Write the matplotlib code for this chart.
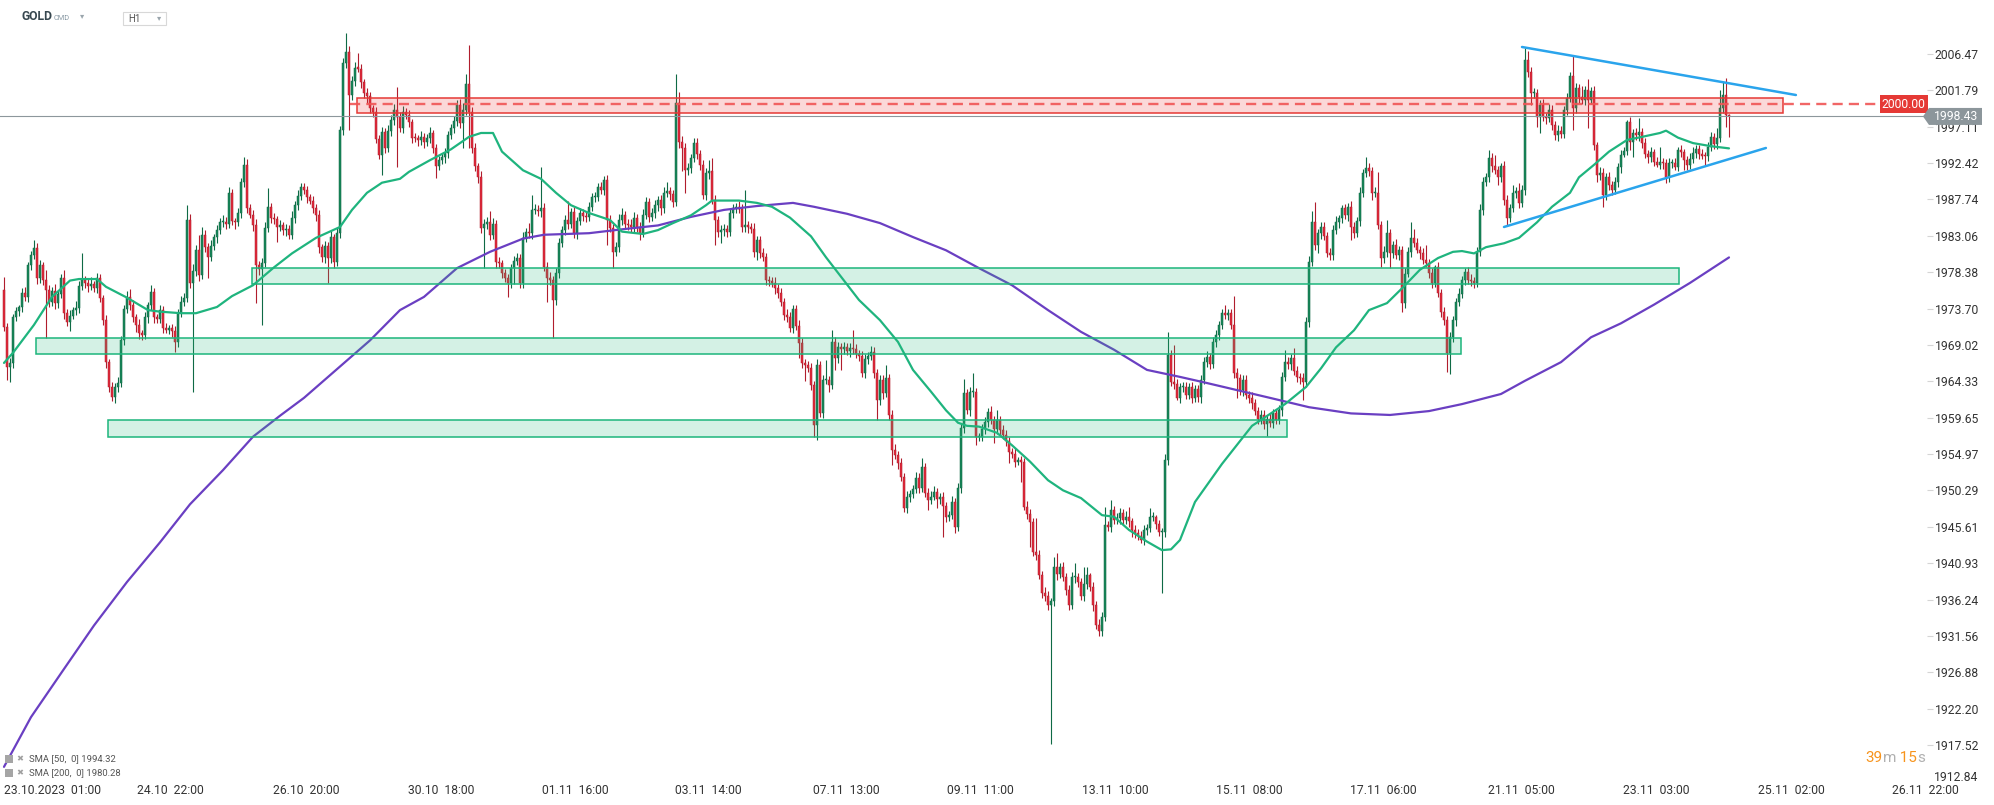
import matplotlib
matplotlib.use("Agg")
import matplotlib.pyplot as plt
from matplotlib.patches import Rectangle, Polygon

plt.rcParams['font.family'] = ['Roboto', 'DejaVu Sans']

# ---------------- data (GOLD H1, 23.10.2023 - 24.11.2023) ----------------
first_open = 1976.1
close = [
    1971.3, 1966.2, 1966.7, 1972.6, 1973.4, 1973.9, 1975.7, 1975.2, 1979.3, 1980.6, 1981.5, 1977.6, 1979.3, 1977.4, 1976.1, 1974.5, 1976.0, 1974.4, 1975.6, 1977.6,
    1973.1, 1972.0, 1972.8, 1973.5, 1973.8, 1976.6, 1977.4, 1977.0, 1976.6, 1976.9, 1976.4, 1977.6, 1975.0, 1972.2, 1966.8, 1963.6, 1962.3, 1963.6, 1964.1, 1969.6,
    1973.6, 1975.2, 1974.2, 1972.6, 1971.6, 1970.5, 1970.3, 1972.6, 1974.1, 1975.8, 1972.6, 1972.4, 1973.5, 1971.2, 1971.0, 1971.2, 1970.8, 1969.4, 1973.1, 1974.6,
    1975.1, 1985.1, 1977.0, 1978.5, 1981.2, 1978.0, 1983.2, 1981.6, 1980.3, 1981.8, 1982.9, 1983.8, 1984.8, 1984.9, 1984.6, 1988.6, 1985.0, 1984.8, 1986.0, 1990.0,
    1992.2, 1986.6, 1985.8, 1984.4, 1979.3, 1978.8, 1979.6, 1984.1, 1986.8, 1985.4, 1985.2, 1984.2, 1984.4, 1983.8, 1984.0, 1983.2, 1985.4, 1987.0, 1988.2, 1989.3,
    1989.0, 1988.0, 1987.6, 1986.6, 1985.7, 1981.6, 1980.3, 1981.8, 1980.2, 1982.9, 1979.7, 1983.4, 1996.7, 2005.3, 2006.7, 2001.2, 2003.0, 2004.7, 2004.6, 2002.8,
    2001.4, 2001.0, 1999.5, 1999.0, 1995.5, 1993.5, 1996.4, 1994.4, 1996.5, 1998.0, 1999.3, 1998.4, 1997.0, 1999.0, 1998.6, 1997.7, 1995.7, 1995.6, 1995.4, 1995.8,
    1995.1, 1995.6, 1996.3, 1994.4, 1992.1, 1992.8, 1993.2, 1993.7, 1996.0, 1997.0, 1997.8, 1999.9, 1997.6, 1999.2, 2002.6, 1999.0, 1994.4, 1992.0, 1990.6, 1984.1,
    1984.6, 1984.8, 1983.2, 1984.6, 1979.7, 1979.5, 1978.3, 1977.6, 1977.0, 1978.9, 1979.8, 1980.2, 1977.0, 1982.8, 1983.5, 1983.4, 1986.4, 1986.4, 1986.2, 1986.6,
    1979.1, 1977.6, 1977.4, 1974.8, 1978.3, 1982.1, 1983.8, 1985.1, 1984.6, 1986.1, 1983.4, 1985.0, 1986.0, 1985.6, 1985.5, 1986.8, 1988.1, 1988.1, 1989.3, 1989.0,
    1990.2, 1985.1, 1984.1, 1981.0, 1981.6, 1985.1, 1985.7, 1984.6, 1984.4, 1984.2, 1985.4, 1984.2, 1983.4, 1985.8, 1987.4, 1985.5, 1986.0, 1987.0, 1987.7, 1986.6,
    1988.6, 1988.8, 1988.4, 1987.4, 2000.2, 1995.1, 1994.4, 1991.5, 1991.8, 1993.1, 1995.0, 1993.6, 1992.2, 1988.3, 1991.1, 1991.4, 1987.7, 1985.1, 1983.6, 1983.8,
    1984.0, 1983.5, 1986.0, 1986.6, 1986.8, 1986.5, 1984.2, 1984.4, 1984.2, 1984.0, 1981.0, 1982.5, 1980.8, 1980.3, 1977.4, 1977.2, 1977.0, 1976.3, 1975.7, 1974.5,
    1972.9, 1972.6, 1971.2, 1973.6, 1971.5, 1969.3, 1966.7, 1966.4, 1966.0, 1963.9, 1958.7, 1966.4, 1960.3, 1964.5, 1964.5, 1963.9, 1969.4, 1967.3, 1968.7, 1968.5,
    1968.8, 1968.2, 1968.6, 1968.5, 1967.8, 1967.6, 1965.4, 1967.2, 1967.6, 1968.1, 1965.4, 1961.9, 1964.5, 1962.8, 1964.8, 1960.0, 1955.5, 1954.9, 1953.8, 1952.0,
    1948.0, 1949.5, 1949.8, 1950.5, 1951.9, 1950.6, 1953.3, 1950.0, 1949.1, 1949.5, 1950.1, 1949.2, 1949.4, 1948.3, 1946.9, 1947.1, 1948.8, 1945.6, 1950.6, 1958.3,
    1962.8, 1960.6, 1962.9, 1962.9, 1957.2, 1957.2, 1958.2, 1959.1, 1960.4, 1959.3, 1958.2, 1959.4, 1958.1, 1957.4, 1956.6, 1955.2, 1955.0, 1954.0, 1954.1, 1954.0,
    1948.2, 1947.3, 1946.2, 1942.4, 1942.0, 1939.4, 1937.1, 1936.7, 1935.5, 1936.0, 1940.4, 1939.5, 1940.4, 1939.2, 1937.5, 1935.5, 1939.1, 1939.1, 1938.5, 1936.7,
    1938.2, 1939.4, 1937.9, 1935.5, 1933.0, 1932.2, 1934.0, 1945.8, 1945.6, 1947.8, 1946.5, 1946.7, 1947.4, 1946.5, 1946.9, 1946.3, 1945.2, 1944.8, 1944.4, 1943.9,
    1945.2, 1945.4, 1946.9, 1946.9, 1946.0, 1944.9, 1944.9, 1954.2, 1967.7, 1964.2, 1964.0, 1962.2, 1963.6, 1963.6, 1962.6, 1963.6, 1962.2, 1963.3, 1962.3, 1964.5,
    1966.8, 1967.5, 1966.6, 1969.4, 1970.3, 1971.6, 1973.1, 1972.9, 1973.1, 1971.6, 1965.4, 1964.8, 1963.2, 1964.5, 1962.6, 1962.2, 1961.5, 1960.5, 1959.5, 1960.0,
    1958.8, 1959.5, 1959.0, 1960.2, 1959.4, 1960.6, 1964.9, 1966.8, 1966.5, 1967.3, 1965.7, 1964.9, 1964.7, 1964.2, 1972.0, 1979.7, 1984.8, 1981.9, 1983.4, 1984.2,
    1983.1, 1980.8, 1980.6, 1983.8, 1984.8, 1985.3, 1986.6, 1985.7, 1986.8, 1984.2, 1983.4, 1985.0, 1988.6, 1991.1, 1991.8, 1991.4, 1988.6, 1988.6, 1984.4, 1980.2,
    1981.0, 1983.4, 1980.8, 1981.9, 1980.6, 1981.2, 1974.4, 1978.2, 1981.0, 1982.8, 1982.2, 1981.3, 1980.8, 1980.0, 1979.6, 1978.3, 1977.0, 1979.1, 1975.7, 1973.3,
    1972.2, 1968.0, 1970.0, 1972.2, 1974.5, 1975.6, 1977.4, 1978.4, 1977.4, 1977.2, 1977.0, 1981.0, 1986.4, 1990.0, 1990.6, 1993.1, 1992.0, 1991.5, 1990.6, 1992.0,
    1987.7, 1985.4, 1986.6, 1988.6, 1988.8, 1987.3, 1988.9, 2005.7, 2004.2, 2001.4, 2001.4, 1998.4, 1999.9, 1998.4, 1998.2, 1999.3, 1997.3, 1996.0, 1996.6, 1996.2,
    1999.3, 2000.8, 2003.6, 1999.5, 2002.1, 2000.9, 2000.5, 2001.8, 2000.5, 2001.7, 1994.7, 1990.9, 1991.2, 1988.3, 1990.6, 1989.6, 1989.0, 1990.0, 1991.9, 1993.5,
    1994.0, 1997.7, 1995.1, 1996.3, 1996.0, 1996.4, 1995.0, 1993.6, 1993.2, 1993.8, 1992.6, 1992.2, 1992.6, 1992.4, 1990.6, 1992.4, 1992.5, 1991.9, 1994.1, 1993.8,
    1992.8, 1992.2, 1993.0, 1993.7, 1994.2, 1993.6, 1993.4, 1993.3, 1994.5, 1995.8, 1994.9, 1995.7, 1999.5, 2001.2, 1998.6, 1998.43,
]
# wick lengths above / below the candle body
upper_wick = [
    1.7, 0.5, 0.6, 0.4, 0.5, 0.3, 0.6, 0.8, 0.4, 0.5, 1.0, 0.6, 0.7, 0.4, 1.2, 0.6, 0.5, 0.8, 0.4, 0.6,
    1.0, 0.5, 0.7, 0.4, 0.9, 0.6, 3.4, 0.5, 0.6, 0.8, 0.4, 0.7, 0.6, 0.5, 0.7, 0.4, 0.6, 0.5, 0.8, 0.6,
    0.5, 0.7, 1.0, 0.6, 0.4, 0.8, 0.5, 0.6, 0.5, 0.9, 0.6, 0.4, 0.7, 0.5, 0.6, 0.4, 0.5, 0.6, 0.5, 0.7,
    0.6, 1.9, 0.8, 0.9, 0.7, 2.0, 1.0, 0.6, 0.5, 0.7, 0.4, 0.6, 0.5, 0.8, 0.6, 0.7, 0.5, 0.4, 0.6, 0.5,
    1.0, 0.7, 0.5, 0.6, 0.8, 0.5, 0.6, 0.7, 2.4, 0.5, 0.6, 0.4, 0.7, 0.5, 0.6, 0.4, 0.8, 0.6, 0.7, 0.6,
    0.6, 0.5, 0.4, 0.6, 0.5, 0.7, 0.4, 0.6, 0.5, 0.8, 0.4, 0.7, 0.5, 0.6, 2.5, 0.8, 0.6, 0.7, 1.9, 0.6,
    0.5, 0.7, 0.6, 0.4, 0.6, 0.5, 0.7, 0.5, 0.8, 0.6, 0.7, 2.9, 0.6, 0.8, 0.5, 0.6, 0.4, 0.6, 0.5, 0.7,
    0.5, 0.6, 0.8, 0.4, 0.5, 0.6, 0.5, 0.7, 0.6, 0.5, 0.7, 0.6, 0.8, 0.9, 1.3, 5.0, 0.7, 0.6, 0.5, 0.8,
    0.6, 0.7, 1.4, 0.8, 0.5, 0.6, 0.4, 0.5, 0.6, 0.5, 0.7, 0.6, 0.5, 0.7, 0.6, 1.2, 1.9, 0.8, 0.6, 5.3,
    0.7, 0.6, 0.8, 0.5, 0.6, 0.7, 0.5, 0.6, 2.5, 0.6, 0.7, 0.5, 0.6, 0.5, 0.7, 0.6, 0.5, 0.6, 0.5, 0.7,
    0.6, 0.7, 0.6, 0.5, 0.7, 0.8, 0.9, 0.5, 0.6, 0.8, 0.7, 0.5, 0.6, 0.7, 0.6, 0.5, 0.6, 0.7, 0.5, 0.6,
    0.7, 1.2, 0.6, 0.5, 3.7, 1.4, 0.8, 0.6, 0.7, 0.5, 0.6, 0.7, 0.5, 0.6, 0.7, 1.4, 1.7, 0.6, 0.5, 0.7,
    0.6, 0.5, 0.7, 0.6, 0.5, 0.7, 0.6, 4.5, 0.6, 0.5, 0.7, 0.6, 0.5, 0.7, 0.6, 0.5, 0.6, 0.7, 0.5, 0.6,
    0.5, 0.7, 0.6, 0.6, 0.5, 0.7, 0.6, 0.5, 0.6, 0.7, 0.5, 0.8, 0.6, 0.7, 2.6, 0.5, 1.5, 0.6, 0.7, 0.5,
    0.6, 0.5, 0.7, 2.3, 0.6, 0.5, 0.6, 0.7, 0.5, 0.8, 0.6, 0.5, 0.7, 0.6, 1.6, 0.5, 0.6, 0.7, 0.5, 0.6,
    0.5, 0.7, 0.6, 0.5, 0.7, 0.6, 1.2, 0.5, 0.6, 0.7, 0.8, 0.5, 0.6, 0.7, 0.5, 0.6, 0.8, 0.5, 0.6, 0.7,
    1.8, 0.6, 0.7, 2.5, 0.6, 0.5, 0.7, 0.6, 0.5, 0.7, 0.6, 1.2, 0.5, 0.6, 0.7, 0.5, 0.6, 0.7, 0.5, 0.6,
    0.5, 0.7, 0.6, 0.5, 4.4, 0.6, 0.5, 0.7, 0.6, 0.5, 1.3, 1.8, 0.6, 0.7, 0.5, 0.6, 0.7, 1.8, 0.6, 0.5,
    2.2, 1.0, 0.3, 0.6, 0.5, 0.7, 0.6, 2.4, 0.6, 1.3, 0.5, 0.7, 0.6, 0.5, 0.7, 1.3, 0.5, 0.6, 0.5, 0.7,
    0.6, 0.5, 1.1, 0.6, 0.2, 0.5, 0.6, 0.8, 3.0, 0.7, 4.8, 0.6, 0.5, 0.7, 0.6, 0.5, 0.7, 0.6, 0.5, 0.7,
    0.6, 0.7, 0.5, 0.6, 0.7, 0.5, 0.6, 1.0, 0.6, 0.5, 3.7, 0.6, 0.5, 0.7, 0.6, 0.5, 0.7, 0.6, 0.5, 0.7,
    0.6, 0.5, 0.7, 0.6, 0.5, 0.7, 0.6, 1.6, 0.7, 0.5, 1.3, 0.6, 0.5, 0.7, 0.6, 0.8, 1.4, 2.6, 0.6, 0.7,
    0.6, 0.5, 0.7, 0.6, 0.8, 0.5, 0.4, 0.6, 0.5, 0.7, 0.6, 0.5, 0.7, 0.6, 1.4, 0.6, 0.5, 0.7, 2.7, 0.6,
    0.7, 1.7, 0.6, 0.5, 0.7, 0.6, 0.5, 0.7, 0.6, 2.0, 1.2, 0.6, 0.5, 0.7, 1.9, 0.5, 0.6, 0.2, 0.6, 0.5,
    0.6, 0.5, 0.7, 0.6, 0.5, 0.7, 0.5, 0.5, 0.6, 0.7, 0.5, 0.6, 0.7, 0.6, 0.5, 1.0, 0.6, 1.5, 0.6, 0.5,
    0.7, 0.6, 0.5, 1.0, 0.6, 1.1, 0.7, 1.5, 1.2, 0.6, 0.7, 0.5, 0.6, 0.8, 0.5, 0.7, 0.6, 0.5, 0.7, 0.6,
    0.5, 0.7, 0.6, 2.7, 0.6, 0.5, 1.5, 0.6, 1.4, 0.5, 0.6, 0.5, 0.7, 0.6, 0.5, 0.7, 0.5, 0.6, 0.5, 0.6,
    0.5, 0.3, 0.6, 0.5, 0.7, 1.8, 0.5, 0.6, 0.5, 0.7, 0.5, 0.6, 1.9, 0.5, 0.6, 0.7, 0.5, 0.6, 0.4, 0.6,
    0.5, 0.6, 0.7, 0.8, 0.6, 0.5, 0.6, 0.5, 0.7, 0.6, 0.5, 1.2, 2.3, 1.7, 2.2, 0.2,
]
lower_wick = [
    0.5, 1.7, 1.9, 0.6, 0.5, 0.7, 0.6, 0.5, 0.7, 0.6, 0.5, 0.8, 0.6, 0.7, 6.2, 0.6, 0.5, 0.7, 0.6, 0.5,
    0.7, 0.6, 1.2, 0.5, 0.6, 0.7, 0.5, 0.6, 0.8, 0.5, 0.6, 0.7, 0.5, 0.6, 0.7, 0.6, 0.5, 0.7, 0.6, 0.5,
    0.6, 0.5, 0.7, 0.6, 0.9, 0.7, 0.6, 0.5, 0.7, 0.6, 0.8, 0.5, 0.6, 0.7, 0.5, 0.6, 0.7, 1.3, 0.6, 0.5,
    0.6, 0.5, 0.7, 14.0, 0.6, 0.7, 0.5, 0.6, 2.7, 0.5, 0.6, 0.7, 0.5, 0.6, 0.7, 0.5, 0.6, 0.8, 0.5, 0.6,
    0.7, 0.6, 0.5, 0.7, 4.9, 0.8, 7.2, 0.6, 0.5, 0.7, 0.6, 1.9, 0.5, 0.6, 0.7, 0.6, 0.5, 0.7, 0.6, 0.5,
    0.6, 0.7, 0.5, 0.6, 0.7, 0.8, 0.6, 0.7, 3.2, 0.6, 0.8, 0.5, 0.6, 0.7, 0.6, 4.5, 0.7, 0.6, 0.5, 0.7,
    0.6, 0.8, 0.6, 0.7, 0.5, 0.6, 2.6, 0.7, 0.5, 0.6, 0.7, 6.5, 0.6, 0.7, 0.5, 0.6, 0.7, 0.5, 0.8, 0.6,
    0.7, 0.5, 0.6, 0.7, 1.6, 0.6, 0.5, 0.7, 0.6, 0.5, 0.7, 0.6, 0.7, 3.2, 0.6, 4.6, 0.7, 0.6, 0.8, 0.7,
    5.2, 0.6, 0.7, 0.5, 0.8, 0.6, 0.7, 0.5, 1.8, 0.6, 2.0, 0.5, 0.6, 0.7, 0.5, 0.6, 0.7, 0.5, 0.6, 0.7,
    0.6, 3.1, 0.7, 4.9, 0.6, 0.7, 0.5, 0.6, 0.7, 0.5, 0.6, 0.7, 0.5, 0.6, 0.7, 0.5, 0.6, 0.7, 0.5, 0.6,
    0.7, 3.2, 0.6, 2.1, 0.5, 0.6, 0.7, 0.5, 0.6, 0.7, 0.8, 0.6, 0.9, 0.5, 0.6, 0.7, 0.5, 0.6, 0.7, 0.9,
    0.6, 0.5, 0.7, 0.6, 0.5, 0.7, 3.0, 2.9, 0.6, 0.7, 0.5, 0.6, 0.7, 0.5, 0.6, 0.7, 0.6, 3.2, 0.7, 1.5,
    0.8, 0.6, 0.5, 0.7, 0.6, 0.5, 0.7, 0.6, 0.8, 0.6, 0.7, 1.0, 0.6, 0.5, 0.7, 0.6, 0.5, 0.7, 0.6, 0.5,
    0.7, 0.6, 0.5, 0.7, 0.6, 2.0, 0.6, 2.0, 0.5, 0.7, 1.5, 1.9, 0.6, 0.7, 0.5, 0.9, 0.6, 1.5, 0.6, 2.7,
    0.6, 0.5, 0.7, 0.6, 0.5, 0.7, 0.5, 0.6, 0.7, 0.5, 0.6, 2.5, 0.6, 0.7, 0.5, 0.6, 2.0, 0.6, 0.7, 0.5,
    0.5, 0.6, 0.7, 0.5, 0.6, 0.7, 0.5, 0.6, 1.3, 0.6, 0.5, 1.2, 0.6, 4.0, 0.7, 0.6, 0.5, 0.8, 0.6, 0.7,
    0.6, 0.5, 0.7, 0.6, 1.1, 0.6, 0.5, 0.7, 0.6, 0.5, 1.8, 0.6, 0.7, 0.5, 0.6, 1.4, 0.6, 0.7, 0.5, 2.6,
    0.4, 0.7, 3.2, 0.6, 0.7, 0.5, 0.6, 0.7, 0.6, 17.9, 0.6, 0.7, 0.5, 0.6, 0.7, 0.6, 0.5, 0.7, 0.6, 0.5,
    0.7, 0.6, 0.5, 0.7, 0.6, 0.6, 0.7, 0.5, 0.6, 0.7, 0.5, 0.6, 0.7, 0.5, 0.6, 0.7, 0.9, 0.6, 0.5, 0.4,
    0.6, 0.7, 0.5, 0.6, 0.7, 0.5, 7.8, 0.6, 0.7, 0.5, 0.6, 0.3, 0.6, 0.7, 0.5, 0.6, 0.7, 0.5, 0.6, 0.7,
    0.5, 0.6, 0.7, 0.5, 0.6, 0.7, 0.5, 0.6, 0.7, 0.5, 0.6, 2.6, 0.6, 0.7, 0.5, 0.6, 0.7, 0.5, 0.6, 0.7,
    0.6, 1.5, 0.6, 0.7, 0.5, 0.6, 0.7, 0.5, 0.6, 0.7, 0.5, 0.6, 0.7, 2.3, 0.6, 0.7, 0.5, 0.6, 1.1, 0.7,
    0.6, 0.5, 0.7, 0.6, 0.5, 0.7, 0.6, 0.5, 0.7, 1.7, 0.6, 0.5, 0.7, 0.6, 0.5, 0.7, 0.9, 0.6, 0.5, 1.1,
    0.6, 0.7, 1.9, 0.6, 0.5, 0.7, 1.1, 0.6, 0.5, 0.7, 0.6, 0.5, 0.7, 0.6, 0.5, 0.7, 0.6, 0.5, 0.5, 0.7,
    0.6, 2.5, 2.7, 0.6, 0.7, 0.5, 0.6, 0.7, 0.5, 0.6, 0.7, 0.5, 0.6, 0.7, 0.5, 0.6, 0.7, 0.5, 1.0, 0.6,
    0.7, 1.1, 0.6, 0.5, 0.7, 0.6, 0.5, 0.6, 0.7, 1.5, 0.6, 1.3, 2.1, 0.6, 0.7, 0.5, 0.6, 0.6, 0.7, 0.5,
    0.6, 0.7, 0.5, 2.8, 0.6, 0.7, 0.5, 0.6, 3.5, 0.5, 0.6, 0.9, 0.7, 1.5, 0.6, 0.6, 0.7, 0.5, 0.6, 0.7,
    0.3, 0.5, 1.0, 1.9, 0.6, 0.7, 0.6, 0.5, 0.7, 0.6, 0.5, 0.3, 0.6, 0.7, 0.8, 0.6, 0.6, 0.4, 0.5, 0.6,
    1.3, 0.7, 0.6, 0.5, 0.6, 0.7, 0.5, 1.1, 0.6, 0.5, 0.7, 0.6, 0.5, 0.6, 1.5, 2.6,
]

sma50_bar = [0, 3, 10, 16, 22, 25, 31, 34, 41, 48, 52, 59, 64, 71, 76, 83, 90, 96, 104, 112,
             116, 121, 126, 132, 135, 142, 149, 155, 159, 163, 166, 173, 179, 184, 189, 195, 202, 206, 213, 218,
             223, 229, 234, 236, 245, 251, 256, 262, 269, 274, 279, 285, 292, 298, 303, 309, 314, 318, 321, 325,
             331, 336, 342, 348, 353, 359, 366, 370, 375, 381, 386, 389, 392, 397, 406, 416, 427, 434, 439, 444,
             450, 455, 461, 466, 472, 478, 483, 486, 490, 494, 500, 505, 511, 516, 522, 525, 530, 535, 541, 546,
             552, 554, 558, 563, 569, 575]
sma50_val = [1966.7, 1968.0, 1971.6, 1975.2, 1977.3, 1977.5, 1977.5, 1976.5, 1975.1, 1973.5, 1973.3, 1973.1, 1973.1, 1973.9, 1975.3, 1976.7, 1979.0, 1980.8, 1982.8, 1984.2,
             1986.4, 1988.6, 1989.9, 1990.4, 1991.3, 1992.8, 1994.2, 1995.8, 1996.3, 1996.3, 1993.9, 1991.5, 1990.4, 1988.6, 1987.0, 1986.0, 1985.1, 1983.6, 1983.3, 1983.8,
             1984.7, 1985.7, 1987.0, 1987.6, 1987.6, 1987.3, 1986.8, 1985.4, 1983.0, 1980.3, 1977.8, 1974.8, 1972.2, 1969.4, 1965.8, 1963.0, 1960.6, 1959.0, 1958.6, 1958.5,
             1957.7, 1956.1, 1954.0, 1951.6, 1950.3, 1949.3, 1947.1, 1946.9, 1945.2, 1943.7, 1942.6, 1942.7, 1943.9, 1948.8, 1953.7, 1958.6, 1961.4, 1963.6, 1966.0, 1968.7,
             1970.9, 1973.5, 1974.4, 1976.3, 1978.7, 1980.2, 1981.0, 1981.1, 1980.8, 1981.6, 1982.1, 1982.8, 1984.8, 1986.8, 1988.6, 1990.6, 1992.2, 1993.9, 1995.4, 1995.8,
             1996.3, 1996.6, 1995.7, 1995.0, 1994.6, 1994.32]
sma200_bar = [0, 9, 20, 30, 41, 52, 62, 73, 83, 92, 100, 122, 132, 140, 151, 162, 173, 180, 195, 206,
              218, 229, 240, 251, 263, 270, 281, 292, 303, 314, 325, 336, 348, 359, 370, 381, 392, 400, 411, 422,
              435, 449, 462, 475, 486, 499, 507, 519, 529, 539, 550, 562, 575]
sma200_val = [1914.7, 1921.1, 1927.3, 1932.9, 1938.5, 1943.6, 1948.5, 1952.9, 1957.2, 1959.9, 1962.2, 1969.6, 1973.5, 1975.2, 1978.9, 1981.0, 1982.7, 1983.2, 1983.4, 1983.9,
              1984.4, 1985.5, 1986.4, 1986.9, 1987.3, 1986.8, 1985.9, 1984.7, 1982.9, 1981.2, 1978.9, 1976.7, 1973.5, 1970.7, 1968.4, 1965.8, 1964.9, 1964.2, 1963.2, 1962.2,
              1961.0, 1960.2, 1960.0, 1960.5, 1961.4, 1962.7, 1964.4, 1966.8, 1970.0, 1971.8, 1974.2, 1977.0, 1980.28]

# support / resistance zones: (start bar, end bar, low price, high price)
green_zones = [(82.7, 558.3, 1976.86, 1978.92),
               (10.7, 485.7, 1967.85, 1969.91),
               (34.7, 427.7, 1957.17, 1959.35)]
red_zone = (117.7, 593.0, 1998.85, 2000.77)
level_price = 2000.00
level_span = (115.3, 625.3)
current_price = 1998.43
# triangle trendlines: (bar, price) endpoints
upper_trend = [(506.0, 2007.37), (597.3, 2001.19)]
lower_trend = [(500.0, 1984.20), (587.3, 1994.37)]

y_ticks = [2006.47, 2001.79, 1997.11, 1992.42, 1987.74, 1983.06, 1978.38, 1973.70, 1969.02, 1964.33,
           1959.65, 1954.97, 1950.29, 1945.61, 1940.93, 1936.24, 1931.56, 1926.88, 1922.20, 1917.52, 1912.84]
x_tick_bars = [0, 55.3, 100.7, 145.7, 190.3, 234.7, 280.7, 325.3, 370.3, 415.0, 459.7, 505.7, 550.7, 595.7, 640.3]
x_tick_labels = ["23.10.2023  01:00", "24.10  22:00", "26.10  20:00", "30.10  18:00", "01.11  16:00",
                 "03.11  14:00", "07.11  13:00", "09.11  11:00", "13.11  10:00", "15.11  08:00",
                 "17.11  06:00", "21.11  05:00", "23.11  03:00", "25.11  02:00", "26.11  22:00"]
legend_rows = ["SMA [50,  0] 1994.32", "SMA [200,  0] 1980.28"]
countdown = [("39", "num"), ("m", "unit"), (" 15", "num"), ("s", "unit")]

# ---------------- figure ----------------
W, H = 1994, 805
fig = plt.figure(figsize=(W / 100, H / 100), dpi=100)
fig.patch.set_facecolor('white')

AX_RIGHT = 1927
AX_BOTTOM = 782
ax = fig.add_axes([0, 1 - AX_BOTTOM / H, AX_RIGHT / W, AX_BOTTOM / H])
ax.set_xlim(-1.33, 641.0)
ax.set_ylim(1912.75, 2013.42)
for s in ax.spines.values():
    s.set_visible(False)
ax.set_facecolor('white')

# candles
opens = [first_open] + close[:-1]
idx = list(range(len(close)))
highs = [max(o, c) + u for o, c, u in zip(opens, close, upper_wick)]
lows = [min(o, c) - d for o, c, d in zip(opens, close, lower_wick)]
UP, UP_E = '#18875a', '#0f6a45'
DN, DN_E = '#e22a3b', '#b01d2d'
is_up = [c >= o for o, c in zip(opens, close)]
wick_cols = [UP_E if u else DN_E for u in is_up]
ax.vlines(idx, lows, highs, colors=wick_cols, linewidth=0.8, zorder=2)
bottoms = [min(o, c) for o, c in zip(opens, close)]
heights = [max(abs(c - o), 0.15) for o, c in zip(opens, close)]
ax.bar(idx, heights, bottom=bottoms, width=0.72,
       color=[UP if u else DN for u in is_up],
       edgecolor=[UP_E if u else DN_E for u in is_up], linewidth=0.35, zorder=3)

# moving averages
ax.plot(sma200_bar, sma200_val, color='#6a3fc2', lw=1.6, zorder=4, solid_capstyle='round')
ax.plot(sma50_bar, sma50_val, color='#1fb47e', lw=1.6, zorder=4, solid_capstyle='round')

# zones
for x0, x1, p0, p1 in green_zones:
    ax.add_patch(Rectangle((x0, p0), x1 - x0, p1 - p0, facecolor=(0.16, 0.74, 0.50, 0.2),
                           edgecolor='#1db57c', linewidth=1.1, zorder=5))
x0, x1, p0, p1 = red_zone
ax.add_patch(Rectangle((x0, p0), x1 - x0, p1 - p0, facecolor=(0.93, 0.25, 0.25, 0.2),
                       edgecolor='#e53935', linewidth=1.1, zorder=5))

# current price line and 2000 level
ax.axhline(current_price, color='#8d979c', lw=0.8, zorder=4.5)
ax.plot(level_span, [level_price, level_price], color='#f05555', lw=1.7, alpha=0.9,
        dashes=(4.3, 2.6), zorder=6)

# triangle
for seg in (upper_trend, lower_trend):
    ax.plot([p[0] for p in seg], [p[1] for p in seg], color='#2aa4ec', lw=1.8, zorder=7,
            solid_capstyle='round')

# axes ticks (lowest price label is drawn separately, nudged up, without a tick mark)
ax.yaxis.tick_right()
ax.set_yticks(y_ticks[:-1])
ax.set_yticklabels([f"{v:.2f}" for v in y_ticks[:-1]])
ax.tick_params(axis='y', length=4, width=0.8, color='#d5d5d5', pad=1.5,
               labelsize=8.7, labelcolor='#333333')
ax.set_xticks(x_tick_bars)
ax.set_xticklabels(x_tick_labels)
ax.tick_params(axis='x', length=0, pad=1.5, labelsize=8.7, labelcolor='#333333')
ax.get_xticklabels()[0].set_horizontalalignment('left')

# 2000 level label
ax.text(640.6, level_price, f"{level_price:.2f}", ha='right', va='center', fontsize=8.7,
        color='white', zorder=9,
        bbox=dict(boxstyle='square,pad=0.2', fc='#e53935', ec='none'))

# ---------------- overlay in pixel coordinates ----------------
ov = fig.add_axes([0, 0, 1, 1])
ov.set_xlim(0, W)
ov.set_ylim(H, 0)
ov.axis('off')

# lowest price-scale label
y_low = H - ax.transData.transform((0, y_ticks[-1]))[1]
ov.text(1933.5, y_low - 4, f"{y_ticks[-1]:.2f}", ha='left', va='center', fontsize=8.7, color='#333333')

# current price tag
yc = H - ax.transData.transform((0, current_price))[1]
ov.add_patch(Polygon([(1923, yc), (1929, yc - 8.5), (1982, yc - 8.5), (1982, yc + 8.5), (1929, yc + 8.5)],
                     closed=True, fc='#8c969b', ec='none'))
ov.text(1956, yc + 0.5, f"{current_price:.2f}", ha='center', va='center', fontsize=8.7, color='white')

# header
ov.text(21, 17, "GOLD", fontsize=8.7, fontweight='bold', color='#37474f', va='center')
ov.text(54, 18, "CMD", fontsize=5.3, color='#8a9aa5', va='center')
ov.text(80, 16, "\u25BE", fontsize=6, color='#9aa5ac', va='center', family='DejaVu Sans')
ov.add_patch(Rectangle((123, 12), 43, 13.5, fill=False, ec='#d8d8d8', lw=0.8))
ov.text(128, 19, "H1", fontsize=7, color='#555555', va='center')
ov.text(157, 17.5, "\u25BE", fontsize=6, color='#9aa5ac', va='center', family='DejaVu Sans')

# indicator legend
for k, txt in enumerate(legend_rows):
    yy = 759 + 14 * k
    ov.add_patch(Rectangle((5, yy - 4.5), 8, 8, fc='#a5a5a5', ec='none'))
    ov.text(16, yy, "\u2716", fontsize=6, color='#a0a0a0', va='center', family='DejaVu Sans')
    ov.text(29, yy, txt, fontsize=6.8, color='#555555', va='center')

# countdown, right-aligned at x = 1925 (built from right to left)
cd_colors = {"num": '#f7941d', "unit": '#b0b0b0'}
prev = None
for txt, kind in reversed(countdown):
    if prev is None:
        prev = ov.text(1925, 758, txt, fontsize=11, color=cd_colors[kind], ha='right', va='center')
    else:
        prev = ov.annotate(txt, xy=(0, 0), xycoords=prev, ha='right', va='bottom',
                           fontsize=11, color=cd_colors[kind])

fig.savefig("out.png", dpi=100, facecolor='white')
